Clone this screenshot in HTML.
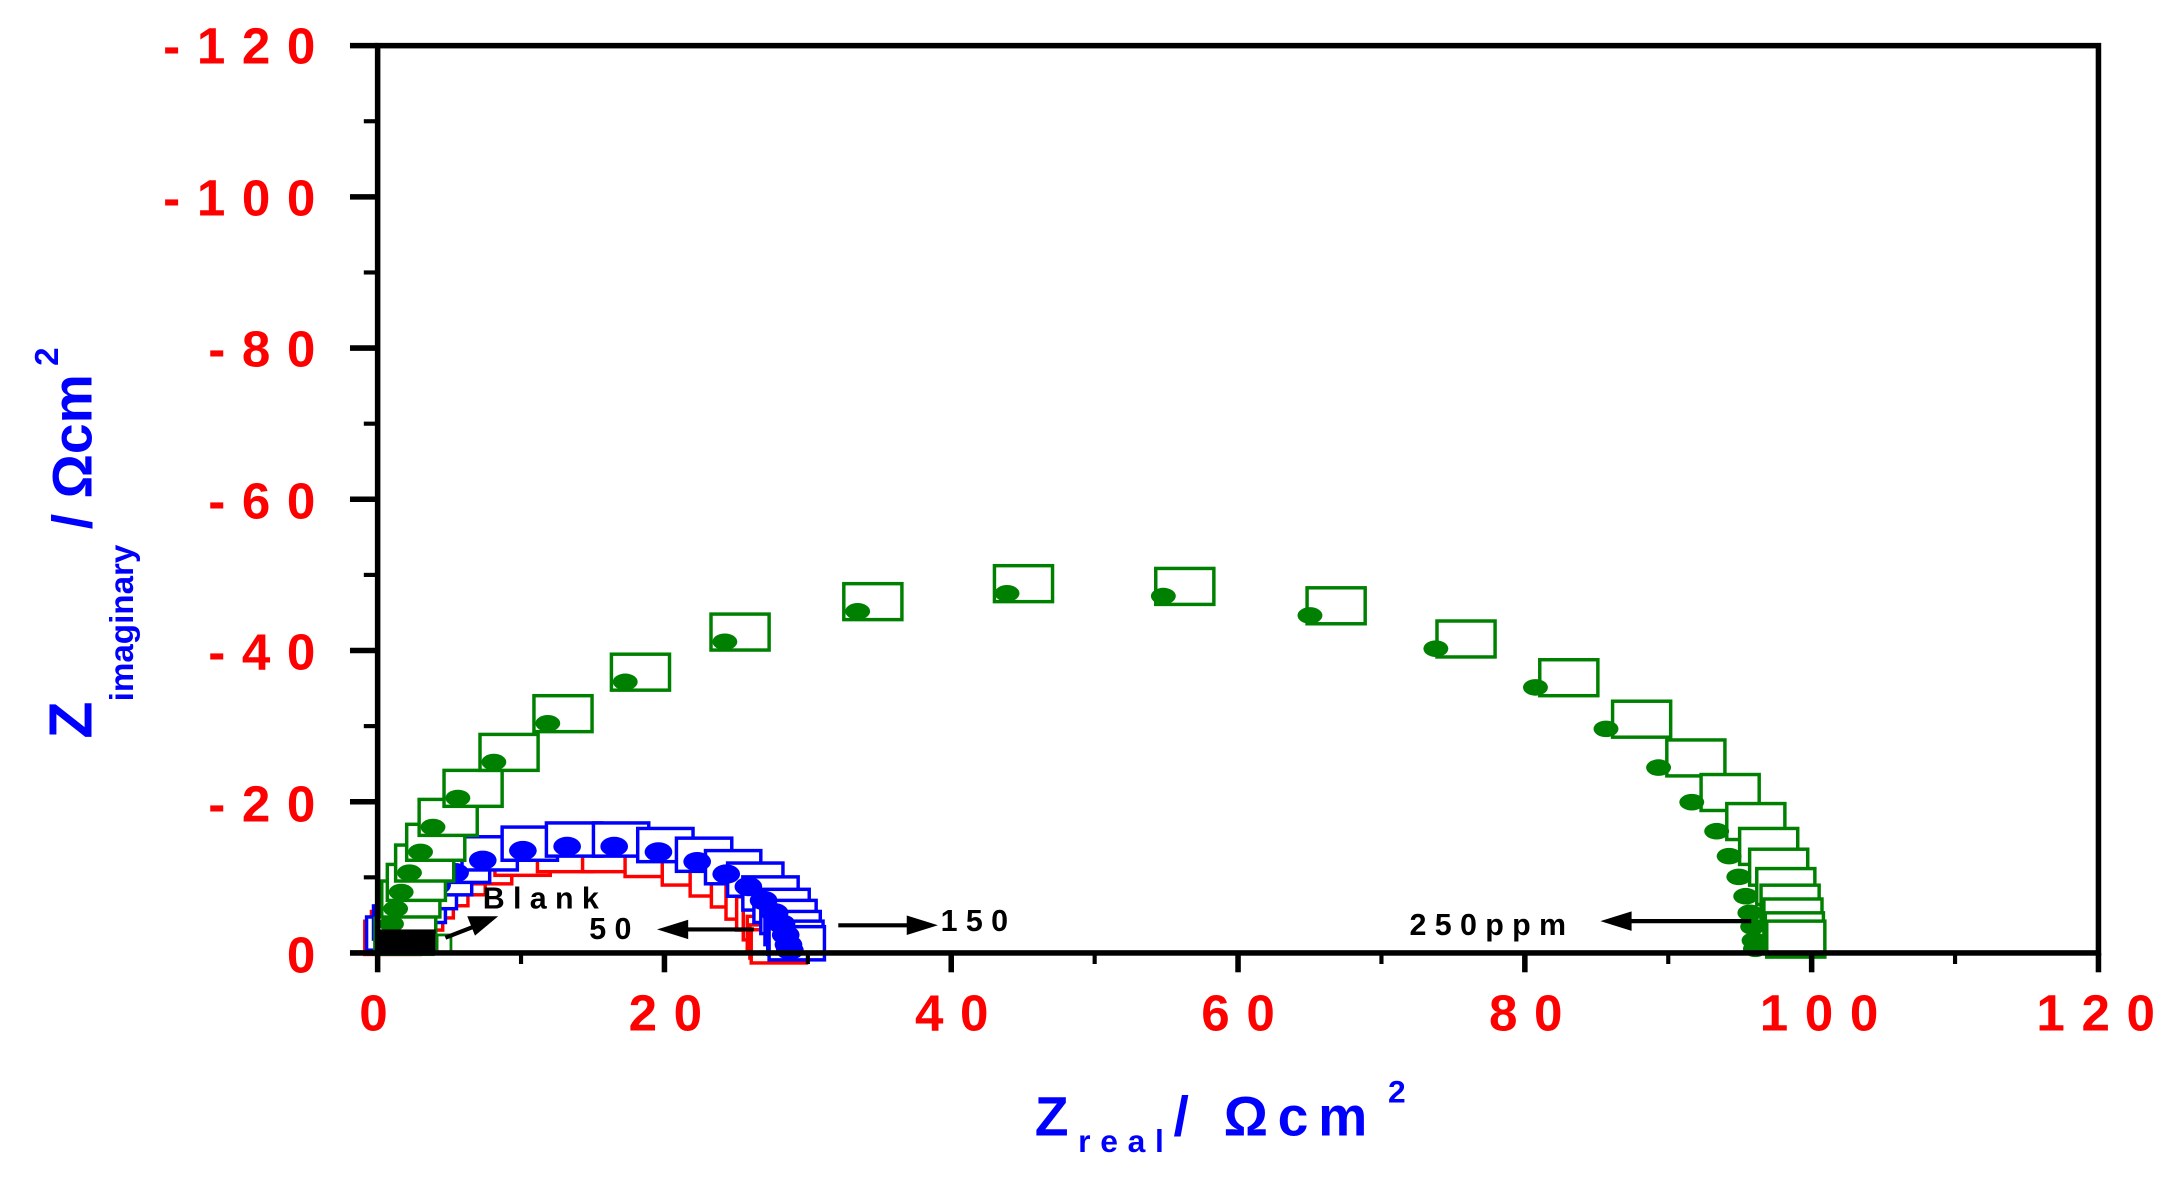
<!DOCTYPE html>
<html><head><meta charset="utf-8"><style>
html,body{margin:0;padding:0;background:#fff;}
svg{display:block;}
text{font-family:"Liberation Sans",Arial,sans-serif;font-weight:bold;}
</style></head><body>
<svg id="s" width="2169" height="1177" viewBox="0 0 1568 851" preserveAspectRatio="none" xmlns="http://www.w3.org/2000/svg">
<g id="data"></g>
<rect x="273" y="33" width="1244" height="656" fill="none" stroke="#000" stroke-width="4"/>
<g id="ticks" stroke="#000" stroke-width="3"></g>
<g fill="#ff0000" font-size="37" letter-spacing="12" text-anchor="end">
<text x="240" y="46">-120</text>
<text x="240" y="156">-100</text>
<text x="240" y="265">-80</text>
<text x="240" y="375">-60</text>
<text x="240" y="484">-40</text>
<text x="240" y="594">-20</text>
<text x="240" y="703">0</text>
</g>
<g fill="#ff0000" font-size="37" letter-spacing="12" text-anchor="middle">
<text x="276" y="745">0</text>
<text x="487" y="745">20</text>
<text x="694" y="745">40</text>
<text x="901" y="745">60</text>
<text x="1109" y="745">80</text>
<text x="1321" y="745">100</text>
<text x="1521" y="745">120</text>
</g>
<text fill="#0000ff" font-size="40" letter-spacing="7"><tspan x="748" y="821">Z</tspan><tspan font-size="23" dy="12">real</tspan><tspan dy="-12" font-size="40">/ Ωcm</tspan><tspan font-size="23" dy="-24" dx="8">2</tspan></text>
<text fill="#0000ff" transform="translate(66,534) rotate(-90)" font-size="44"><tspan x="0" y="0">Z</tspan><tspan font-size="24" dy="30">imaginary</tspan><tspan dy="-30" font-size="40"> / Ωcm</tspan><tspan font-size="24" dy="-24" dx="6">2</tspan></text>
<g fill="#000" font-size="22" letter-spacing="6">
<text x="349" y="657">Blank</text>
<text x="426" y="679">50</text>
<text x="680" y="673">150</text>
<text x="1019" y="676">250ppm</text>
</g>
<g stroke="#000" stroke-width="3" fill="#000">
<line x1="322" y1="678" x2="345" y2="669"/><polygon points="356,664 340,664 344,674"/>
<line x1="545" y1="672" x2="492" y2="672"/><polygon points="480,672 496,667 496,677"/>
<line x1="606" y1="669" x2="660" y2="669"/><polygon points="673,669 657,664 657,674"/>
<line x1="1266" y1="666" x2="1175" y2="666"/><polygon points="1162,666 1178,661 1178,671"/>
</g>
</svg>
<script>
var NS="http://www.w3.org/2000/svg";
function el(p,t,a){var e=document.createElementNS(NS,t);for(var k in a)e.setAttribute(k,a[k]);p.appendChild(e);return e;}
var tk=document.getElementById("ticks");
for(var i=0;i<=12;i++){var y=689-i*656/12;var major=i%2==0;el(tk,"line",{x1:major?253:263,y1:y,x2:273,y2:y,"stroke-width":major?4:3});}
for(var i=0;i<=12;i++){var x=273+i*1244/12;var major=i%2==0;el(tk,"line",{x1:x,y1:689,x2:x,y2:major?703:697,"stroke-width":major?4:3});}
var d=document.getElementById("data");
var green=[[281,684],[283,668],[286,657],[290,645],[296,631],[304,616],[313,598],[331,577],[357,551],[396,523],[452,493],[524,464],[620,442],[728,429],[841,431],[947,445],[1038,469],[1110,497],[1161,527],[1199,555],[1223,580],[1241,601],[1250,619],[1257,634],[1262,648],[1265,660],[1267,670],[1268,680],[1269,686]];
var blue=[[280,680],[285,672],[290,666],[297,660],[305,650],[316,640],[329,631],[349,622],[378,615],[410,612],[444,612],[476,616],[504,623],[525,632],[541,641],[552,651],[560,660],[565,668],[568,676],[570,683],[571,687]];
blue.forEach(function(p){var x=273+(p[0]-273)*0.96,y=689-(689-p[1])*0.88;el(d,"rect",{x:x-16,y:y-15,width:40,height:24,fill:"#fff",stroke:"#ff0000","stroke-width":2.5});});
blue.forEach(function(p){el(d,"rect",{x:p[0]-15,y:p[1]-17,width:40,height:24,fill:"#fff",stroke:"#0000ff","stroke-width":2.5});});
blue.forEach(function(p){el(d,"ellipse",{cx:p[0],cy:p[1],rx:10,ry:7,fill:"#0000ff"});});
green.forEach(function(p){var ox=-10+16*Math.max(0,(p[0]-700)/500);el(d,"rect",{x:p[0]+ox,y:p[1]-20,width:42,height:26,fill:"#fff",stroke:"#008000","stroke-width":2.5});});
green.forEach(function(p){el(d,"ellipse",{cx:p[0],cy:p[1],rx:9,ry:6,fill:"#008000"});});
el(d,"rect",{x:273,y:672,width:42,height:17,fill:"#000"});
el(d,"rect",{x:316,y:676,width:10,height:13,fill:"#fff",stroke:"#008000","stroke-width":2});
</script>
</body></html>
